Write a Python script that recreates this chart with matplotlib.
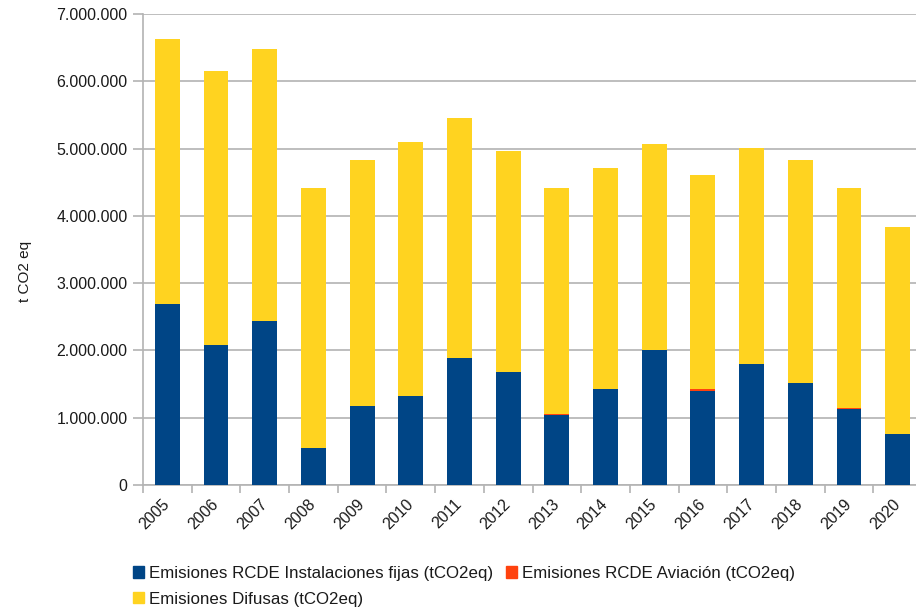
import matplotlib
matplotlib.use("Agg")
import matplotlib.pyplot as plt
import numpy as np
from matplotlib.ticker import FuncFormatter, FixedLocator
from matplotlib.patches import Patch

plt.rcParams['font.family'] = ['Liberation Sans', 'DejaVu Sans']

years = [str(y) for y in range(2005, 2021)]
fijas = [2690000, 2080000, 2440000, 550000, 1170000, 1320000, 1890000, 1680000,
         1040000, 1430000, 2010000, 1400000, 1800000, 1520000, 1130000, 760000]
aviacion = [0, 0, 0, 0, 0, 0, 0, 0, 20000, 0, 0, 20000, 0, 0, 20000, 0]
totales = [6630000, 6150000, 6480000, 4410000, 4830000, 5100000, 5450000, 4960000,
           4410000, 4710000, 5070000, 4610000, 5010000, 4830000, 4410000, 3830000]
difusas = [t - f - a for t, f, a in zip(totales, fijas, aviacion)]

c_fijas = '#004586'
c_avia = '#ff420e'
c_dif = '#ffd320'
grid_c = '#b3b3b3'

fig = plt.figure(figsize=(9.16, 6.11), dpi=100)
ax = fig.add_axes([143 / 916, 1 - 485 / 611, (922 - 143) / 916, (485 - 14) / 611])

x = np.arange(len(years))
w = 0.51
ax.bar(x, fijas, w, color=c_fijas, zorder=3)
ax.bar(x, aviacion, w, bottom=fijas, color=c_avia, zorder=3)
bottom2 = [f + a for f, a in zip(fijas, aviacion)]
ax.bar(x, difusas, w, bottom=bottom2, color=c_dif, zorder=3)

ax.set_xlim(-0.5, len(years) - 0.5)
ax.set_ylim(0, 7000000)
ax.set_yticks(np.arange(0, 7000001, 1000000))
ax.yaxis.set_major_formatter(FuncFormatter(lambda v, p: f"{int(v):,}".replace(",", ".")))
ax.yaxis.grid(True, color=grid_c, linewidth=1.2, zorder=0)

ax.set_xticks(x)
ax.set_xticklabels(years, rotation=45, ha='right', va='center', rotation_mode='anchor')
ax.xaxis.set_minor_locator(FixedLocator(np.arange(-0.5, len(years), 1)))
ax.tick_params(axis='x', which='major', length=0, pad=12, labelsize=11.5, colors='#1a1a1a')
ax.tick_params(axis='x', which='minor', length=6, width=1.2, color=grid_c)
ax.tick_params(axis='y', length=7, width=1.2, color=grid_c, labelsize=11.5, labelcolor='#1a1a1a', pad=4)

for s in ['top', 'right']:
    ax.spines[s].set_visible(False)
for s in ['left', 'bottom']:
    ax.spines[s].set_color(grid_c)
    ax.spines[s].set_linewidth(1.2)

fig.text(25 / 916, 1 - 271 / 611, 't CO2 eq', rotation=90, ha='center', va='center',
         fontsize=11, color='#1a1a1a')

handles = [Patch(color=c_fijas, label='Emisiones RCDE Instalaciones fijas (tCO2eq)'),
           Patch(color=c_dif, label='Emisiones Difusas (tCO2eq)'),
           Patch(color=c_avia, label='Emisiones RCDE Aviación (tCO2eq)')]
fig.legend(handles=handles, ncol=2, loc='upper left', bbox_to_anchor=(133 / 916, 1 - 566 / 611),
           frameon=False, fontsize=12.2, handlelength=0.65, handleheight=0.65,
           handletextpad=0.3, columnspacing=0.76, labelspacing=0.62, borderpad=0,
           borderaxespad=0, labelcolor='#1a1a1a')

fig.savefig('out.png', dpi=100)
